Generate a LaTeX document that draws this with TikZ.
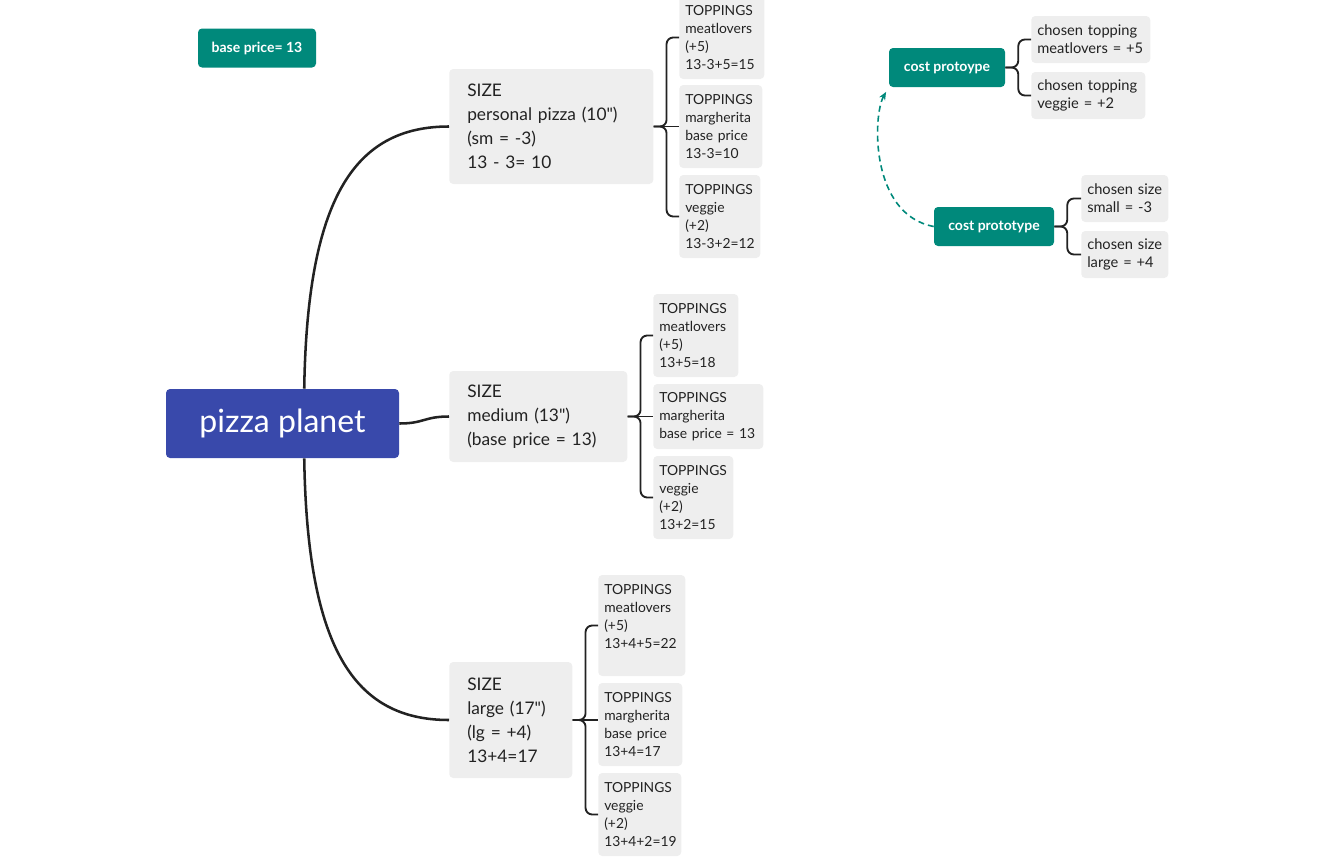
\documentclass[tikz,border=0pt]{standalone}
\usepackage{fontspec}
\setmainfont{Lato}
\usetikzlibrary{arrows.meta}
\exhyphenpenalty=10000
\definecolor{mapblue}{HTML}{3949AB}
\definecolor{mapteal}{HTML}{00897B}
\definecolor{boxgray}{HTML}{EEEEEE}
\definecolor{ink}{HTML}{222222}
\tikzset{
  central/.style={rectangle, rounded corners=3pt, fill=mapblue, text=white, minimum width=174.75pt, minimum height=51.75pt, font=\fontsize{24}{28}\selectfont},
  tealbox/.style={rectangle, rounded corners=3pt, fill=mapteal, text=white, minimum height=29.25pt, font=\fontsize{10.5}{12}\selectfont\bfseries},
  sizebox/.style={rectangle, rounded corners=3pt, fill=boxgray, text=ink, align=left, anchor=west, inner xsep=13.5pt, font=\fontsize{13}{18}\selectfont},
  topbox/.style={rectangle, rounded corners=3pt, fill=boxgray, text=ink, align=left, anchor=west, inner xsep=4.5pt, minimum height=62.25pt, font=\fontsize{10.4}{13.5}\selectfont},
  pickbox/.style={rectangle, rounded corners=3pt, fill=boxgray, text=ink, align=left, anchor=west, inner xsep=4.5pt, minimum height=35.25pt, font=\fontsize{11}{13.5}\selectfont},
  trunk/.style={draw=ink, line width=1.9pt},
  branch/.style={draw=ink, line width=1.4pt, rounded corners=5pt},
  link/.style={draw=mapteal, line width=1.2pt, dash pattern=on 4.5pt off 3pt, -{Stealth[length=6pt,width=5pt]}, shorten >=4pt}
}
\begin{document}
\begin{tikzpicture}[x=0.75pt, y=-0.75pt]
      \useasboundingbox (0,0) rectangle (1324,860);
      \node[tealbox, minimum width=88.5pt] (base) at (257,48){base price= 13};
      \node[central] (pizza) at (282.5,423.5){pizza planet};

      \node[sizebox, text width=126pt, minimum height=86.25pt] (s1) at (449,126.5){SIZE\\personal pizza (10\textquotedbl)\\(sm = -3)\\13 - 3= 10};
      \node[sizebox, text width=106.5pt, minimum height=68.25pt] (s2) at (449,416.5){SIZE\\medium (13\textquotedbl)\\(base price = 13)};
      \node[sizebox, text width=65.25pt, minimum height=87pt] (s3) at (449,720){SIZE\\large (17\textquotedbl)\\(lg = +4)\\13+4=17};

      \node[topbox, text width=54.75pt] (t1a) at (679,37.5){TOPPINGS\\meatlovers\\(+5)\\13-3+5=15};
      \node[topbox, text width=53.25pt] (t1b) at (679,126.5){TOPPINGS\\margherita\\base price\\13-3=10};
      \node[topbox, text width=51.75pt] (t1c) at (679,216.5){TOPPINGS\\veggie\\(+2)\\13-3+2=12};

      \node[topbox, text width=54.75pt] (t2a) at (653,335.5){TOPPINGS\\meatlovers\\(+5)\\13+5=18};
      \node[topbox, text width=73.5pt, minimum height=48.75pt] (t2b) at (653,416.5){TOPPINGS\\margherita\\base price = 13};
      \node[topbox, text width=51pt] (t2c) at (653,497.5){TOPPINGS\\veggie\\(+2)\\13+2=15};

      \node[topbox, text width=56.25pt, minimum height=75.75pt] (t3a) at (598,625.5){TOPPINGS\\meatlovers\\(+5)\\13+4+5=22\\~};
      \node[topbox, text width=54pt] (t3b) at (598,724.5){TOPPINGS\\margherita\\base price\\13+4=17};
      \node[topbox, text width=53.25pt] (t3c) at (598,814.5){TOPPINGS\\veggie\\(+2)\\13+4+2=19};

      \node[tealbox, minimum width=87pt] (cp1) at (947,67.5){cost protoype};
      \node[pickbox, text width=80.25pt] (pk1) at (1031,39.5){chosen topping\\meatlovers = +5};
      \node[pickbox, text width=76.5pt] (pk2) at (1031,95.5){chosen topping\\veggie = +2};

      \node[tealbox, minimum width=90pt] (cp2) at (994,226.5){cost prototype};
      \node[pickbox, text width=56.25pt] (pk3) at (1081,198.5){chosen size\\small = -3};
      \node[pickbox, text width=56.25pt] (pk4) at (1081,254.5){chosen size\\large = +4};

      \draw[trunk] (pizza.58) .. controls +(3,-190) and +(-95,0) .. (s1.west);
      \draw[trunk] (pizza.east) .. controls +(25,0) and +(-25,0) .. (s2.west);
      \draw[trunk] (pizza.-58) .. controls +(3,190) and +(-95,0) .. (s3.west);

      \draw[branch] (s1.east) -- ++(13,0) |- (t1a.west);
      \draw[branch] (s1.east) -- (s1.east -| t1b.west);
      \draw[branch] (s1.east) -- ++(13,0) |- (t1c.west);

      \draw[branch] (s2.east) -- ++(13,0) |- (t2a.west);
      \draw[branch] (s2.east) -- (s2.east -| t2b.west);
      \draw[branch] (s2.east) -- ++(13,0) |- (t2c.west);

      \draw[branch] (s3.east) -- ++(13,0) |- (t3a.west);
      \draw[branch] (s3.east) -- (s3.east -| t3b.west);
      \draw[branch] (s3.east) -- ++(13,0) |- (t3c.west);

      \draw[branch] (cp1.east) -- ++(13,0) |- (pk1.west);
      \draw[branch] (cp1.east) -- ++(13,0) |- (pk2.west);
      \draw[branch] (cp2.east) -- ++(13,0) |- (pk3.west);
      \draw[branch] (cp2.east) -- ++(13,0) |- (pk4.west);

      \draw[link] (cp2.west) .. controls +(-64,-12) and +(-16,28) .. (cp1.south west);

    \end{tikzpicture}
\end{document}
